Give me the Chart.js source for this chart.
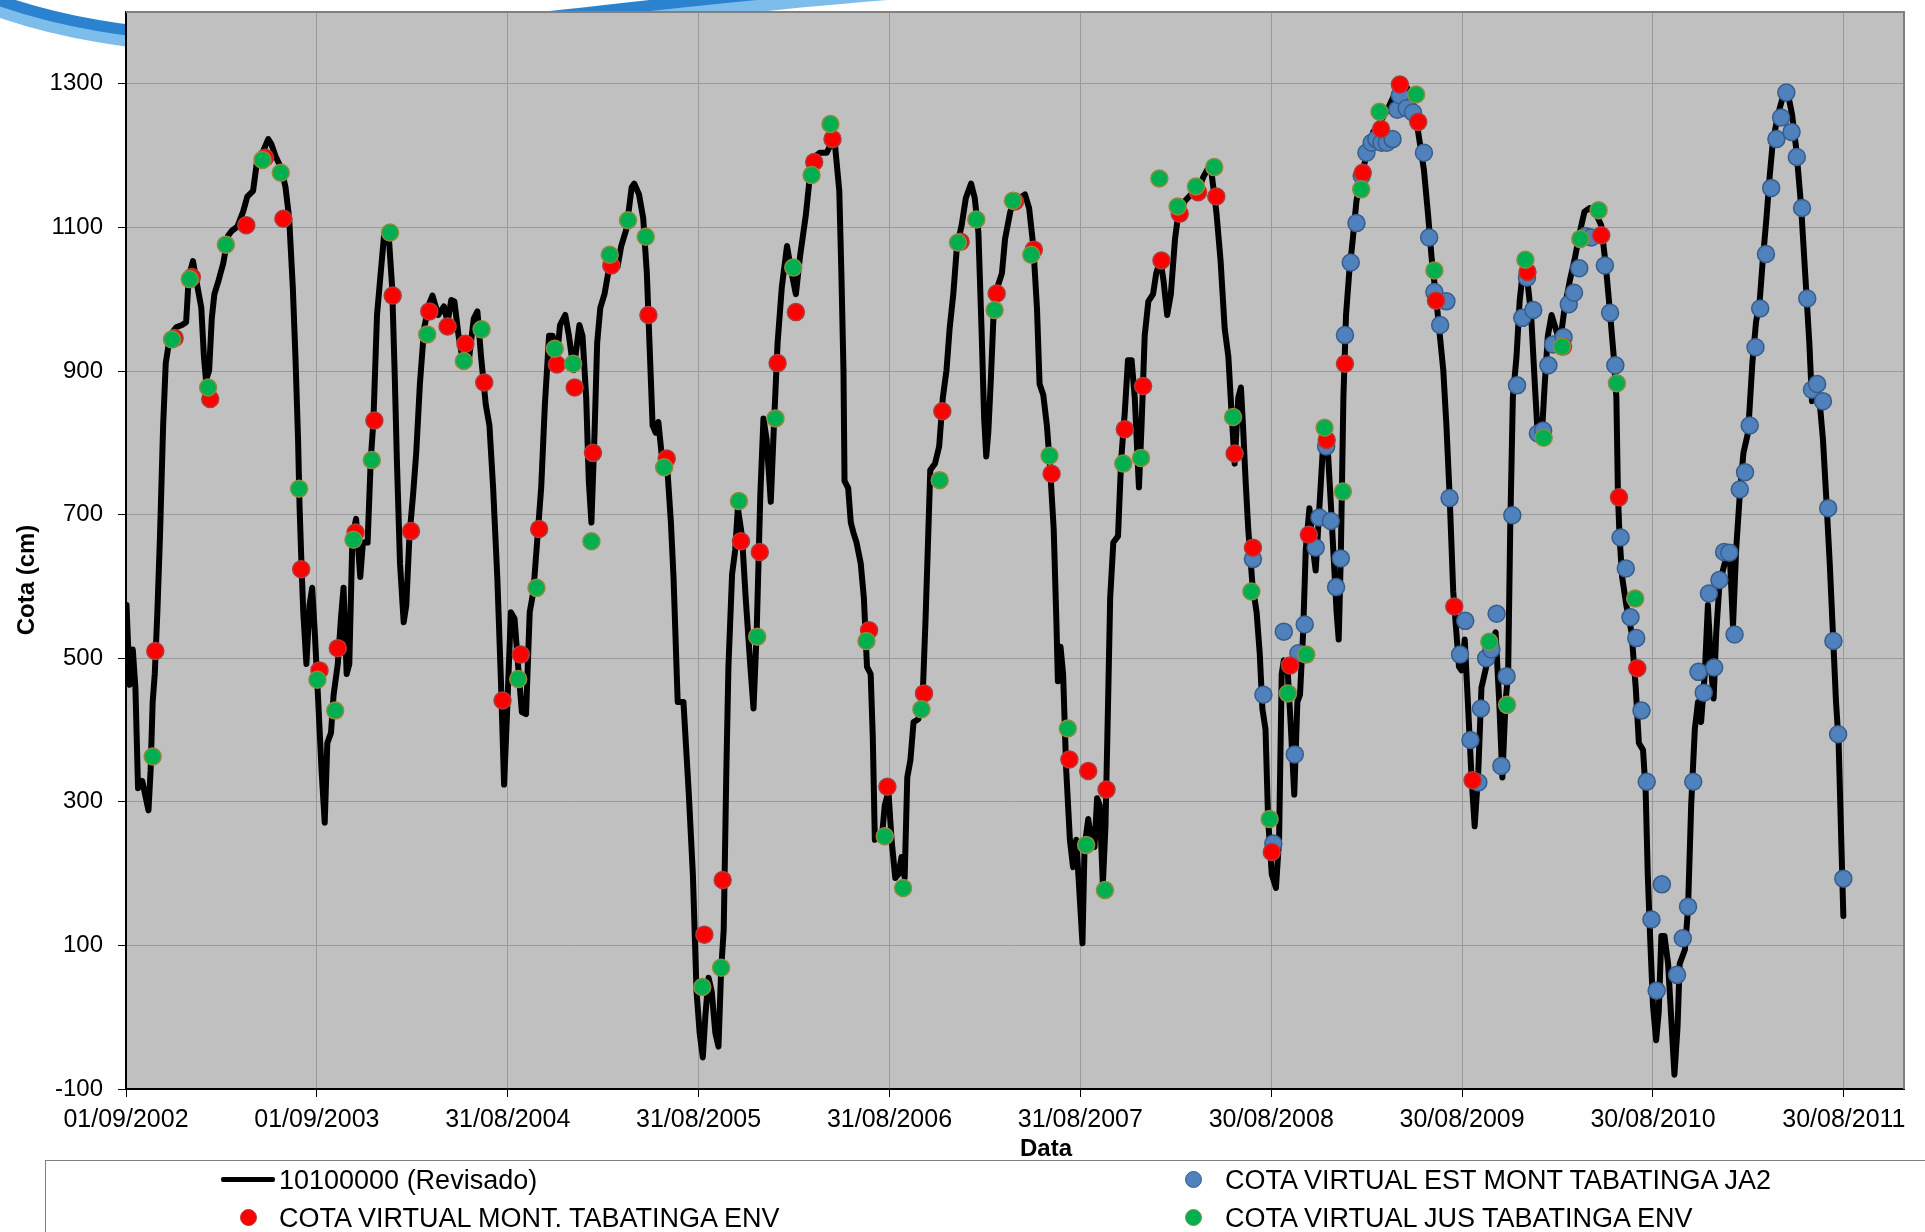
<!DOCTYPE html>
<html>
<head>
<meta charset="utf-8">
<title>Cota Tabatinga</title>
<script src="https://cdn.jsdelivr.net/npm/chart.js@4.4.1/dist/chart.umd.min.js"></script>
<style>
    body { margin: 0; background: #fff; width: 1925px; height: 1232px; overflow: hidden; position: relative; font-family: "Liberation Sans", Arial, sans-serif; }
    #c { position: absolute; left: 0; top: 0; }
    .legend-box { position: absolute; left: 45px; top: 1160px; width: 1950px; height: 200px; border: 1px solid #7f7f7f; }
    .item { position: absolute; font-size: 27px; line-height: 30px; color: #000; white-space: nowrap; }
    .swatch-line { position: absolute; width: 54px; height: 5px; background: #000; border-radius: 2px; }
    .swatch-dot { position: absolute; width: 15px; height: 15px; border-radius: 50%; }
</style>
</head>
<body>
<canvas id="c" width="1925" height="1232"></canvas>

<div class="legend-box"></div>
<div class="swatch-line" style="left:221px; top:1177px;"></div>
<div class="item" style="left:279px; top:1165px;">10100000 (Revisado)</div>
<div class="swatch-dot" style="left:1185px; top:1171px; background:#4f81bd; border:1px solid #385d8a;"></div>
<div class="item" style="left:1225px; top:1165px;">COTA VIRTUAL EST MONT TABATINGA JA2</div>
<div class="swatch-dot" style="left:240px; top:1209px; background:#ff0000; border:1px solid #b03a3a;"></div>
<div class="item" style="left:279px; top:1203px;">COTA VIRTUAL MONT. TABATINGA ENV</div>
<div class="swatch-dot" style="left:1185px; top:1209px; background:#00b050; border:1px solid #8c8c3c;"></div>
<div class="item" style="left:1225px; top:1203px;">COTA VIRTUAL JUS TABATINGA ENV</div>

<script>
// x values are days counted from 01/09/2002, y values are cota in cm

const xTickDays = [0, 365, 730, 1095, 1460, 1825, 2190, 2555, 2920, 3285];
const xTickLabels = ['01/09/2002', '01/09/2003', '31/08/2004', '31/08/2005', '31/08/2006',
    '31/08/2007', '30/08/2008', '30/08/2009', '30/08/2010', '30/08/2011'];
const yTicks = [-100, 100, 300, 500, 700, 900, 1100, 1300];

// 10100000 (Revisado)
const revisado = [
    [1,574],[7,463],[13,512],[18,459],[23,319],[31,329],[38,305],[43,288],[47,343],[51,439],[55,478],[60,564],
    [65,670],[71,824],[76,911],[82,939],[89,954],[96,961],[107,964],[115,968],[120,1031],[128,1053],[137,1016],
    [144,988],[149,920],[153,887],[159,901],[164,973],[169,1007],[177,1026],[186,1050],[195,1088],[202,1095],
    [213,1101],[224,1122],[232,1143],[243,1151],[250,1189],[261,1204],[272,1223],[278,1216],[286,1199],[297,1182],
    [305,1156],[312,1113],[319,1016],[324,920],[329,805],[332,709],[336,622],[339,564],[345,492],[351,574],
    [356,598],[361,536],[367,449],[374,343],[380,271],[385,382],[392,396],[397,449],[405,492],[411,555],[416,598],
    [422,478],[427,492],[433,670],[440,694],[448,613],[453,661],[462,661],[468,776],[473,829],[480,978],[487,1036],
    [494,1093],[502,1093],[509,1016],[514,891],[518,776],[524,632],[531,550],[536,574],[542,670],[549,728],
    [555,786],[562,882],[570,959],[579,992],[586,1005],[597,978],[608,990],[615,968],[622,999],[628,997],
    [636,949],[644,915],[655,911],[665,973],[672,983],[679,920],[688,853],[695,824],[702,738],[710,613],[717,468],
    [723,324],[728,411],[736,564],[743,555],[750,488],[757,425],[765,422],[772,564],[779,593],[787,670],[794,738],
    [801,853],[809,949],[816,949],[823,911],[830,964],[840,978],[847,949],[856,901],[867,964],[873,949],[880,863],
    [885,747],[890,689],[896,814],[901,939],[907,988],[915,1007],[922,1036],[933,1055],[940,1045],[947,1074],
    [957,1098],[967,1156],[972,1161],[981,1146],[989,1113],[996,1036],[1002,920],[1007,824],[1013,814],[1018,829],
    [1024,786],[1035,766],[1042,689],[1047,613],[1055,439],
    [1066,439],[1076,314],[1084,199],[1091,36],[1097,-22],[1103,-56],[1108,3],[1114,55],[1120,36],[1127,-22],
    [1133,-41],[1138,65],[1143,122],[1148,343],[1152,488],[1159,617],[1165,651],[1170,709],[1178,670],[1185,584],
    [1194,488],[1200,430],[1206,536],[1213,728],[1219,834],[1225,805],[1233,718],[1239,824],[1246,939],[1254,1016],
    [1264,1074],[1273,1036],[1281,1007],[1289,1060],[1300,1117],[1309,1180],[1318,1199],[1327,1204],[1340,1204],
    [1349,1218],[1356,1213],[1364,1151],[1368,1036],[1372,901],[1374,747],[1381,737],[1386,689],[1391,675],
    [1397,661],[1405,632],[1411,584],[1414,536],[1417,488],[1424,478],[1428,391],[1432,247],[1438,252],[1445,247],
    [1451,295],[1458,314],[1464,247],[1471,194],[1477,199],[1483,223],[1489,194],[1494,334],[1500,358],[1506,411],
    [1515,415],[1523,439],[1529,555],[1534,670],[1538,762],[1547,771],[1555,795],[1562,863],[1569,901],[1575,959],
    [1582,1007],[1589,1074],[1598,1103],[1606,1141],[1616,1161],[1623,1141],[1630,1093],[1636,959],[1641,834],
    [1645,781],[1649,815],[1654,891],[1659,978],[1666,1016],[1675,1036],[1681,1084],[1691,1122],[1700,1141],
    [1710,1141],[1719,1146],[1727,1127],[1735,1074],[1742,988],[1747,882],[1754,867],[1761,824],[1767,766],
    [1774,680],[1779,555],[1782,468],[1787,516],
    [1792,478],[1798,343],[1805,247],[1811,209],[1817,247],[1822,189],[1829,103],[1833,237],[1840,276],[1846,247],
    [1852,237],[1857,305],[1862,295],[1868,185],[1873,266],[1878,439],[1882,584],[1888,661],[1897,670],[1903,776],
    [1910,843],[1916,915],[1923,915],[1929,863],[1937,738],[1942,824],[1948,949],[1955,997],[1964,1007],[1970,1036],
    [1978,1055],[1984,1026],[1991,978],[1998,1007],[2006,1084],[2012,1117],[2025,1137],[2037,1146],[2050,1151],
    [2060,1170],[2069,1182],[2076,1175],[2085,1122],[2093,1055],[2101,959],[2108,920],[2114,843],[2120,771],
    [2127,863],[2132,877],[2136,824],[2141,747],[2146,680],[2154,603],[2162,564],[2168,507],[2173,430],[2179,401],
    [2184,276],[2191,199],[2199,180],[2205,247],[2210,478],[2214,497],[2221,488],[2227,411],[2234,310],[2240,439],
    [2245,449],[2251,536],[2256,651],[2263,709],[2270,651],[2275,622],[2282,709],[2289,795],[2297,805],[2303,728],
    [2310,632],[2315,564],[2319,526],[2323,641],[2328,863],[2333,978],[2339,1036],[2346,1084],[2353,1137],
    [2363,1175],[2372,1199],[2385,1233],[2398,1247],[2411,1262],[2423,1281],[2433,1295],[2446,1300],[2455,1286],
    [2465,1262],[2473,1223],[2482,1180],[2490,1117],[2497,1055],[2506,997],
    [2519,901],[2525,824],[2531,728],[2538,593],[2544,536],[2549,488],[2554,483],[2560,526],[2566,439],[2573,334],
    [2579,266],[2586,343],[2592,459],[2598,478],[2607,507],[2614,526],[2619,536],[2626,439],[2632,334],[2638,439],
    [2643,478],[2647,680],[2652,863],[2659,920],[2665,997],[2672,1045],[2679,1031],[2687,978],[2694,882],[2700,805],
    [2707,805],[2713,882],[2719,949],[2726,978],[2734,959],[2742,939],[2751,988],[2761,1026],[2770,1055],[2780,1093],
    [2789,1122],[2799,1127],[2812,1117],[2821,1103],[2830,1045],[2837,988],[2845,920],[2850,863],[2853,728],
    [2856,670],[2861,613],[2869,574],[2879,536],[2887,459],[2893,382],[2901,372],[2906,314],[2910,199],[2915,103],
    [2920,16],[2926,-32],[2931,7],[2936,113],[2942,113],[2949,74],[2955,-3],[2961,-80],[2967,-13],[2971,74],
    [2981,94],[2987,151],[2993,295],[3000,401],[3006,439],[3012,411],[3019,478],[3025,574],[3032,478],[3036,444],
    [3041,536],[3047,603],[3057,632],[3067,641],[3073,545],[3079,651],[3086,728],[3093,786],[3102,815],[3110,911],
    [3117,968],[3124,997],[3130,1055],[3137,1113],[3143,1170],[3149,1218],[3159,1257],[3168,1281],[3178,1286],
    [3186,1257],[3194,1209],[3203,1132],[3211,1036],[3219,939],[3224,858],[3230,877],[3238,863],[3245,805],
    [3251,728],[3258,632],[3264,536],[3270,439],[3275,382],[3280,247],[3284,141]
];

// COTA VIRTUAL MONT. TABATINGA ENV
const montEnv = [
    [56,510],[93,946],[126,1031],[161,861],[230,1103],[266,1197],[301,1112],[335,624],[370,483],[405,514],
    [439,675],[475,831],[510,1005],[545,677],[580,983],[615,962],[649,938],[685,884],[720,441],[755,505],
    [790,680],[824,909],[858,877],[893,786],[928,1047],[999,978],[1034,778],
    [1106,115],[1141,191],[1176,663],[1212,648],[1246,911],[1281,982],[1316,1191],[1351,1223],[1421,539],
    [1456,321],[1526,451],[1561,844],[1596,1080],[1665,1008],[1700,1136],[1736,1069],[1770,757],[1804,359],
    [1840,343],[1875,317],[1910,819],[1945,879],[1980,1054],[2015,1119],[2050,1149],[2085,1143],[2120,785],
    [2155,654],[2191,230],[2226,490],[2262,672],[2296,804],[2331,910],[2365,1176],[2400,1237],[2436,1299],
    [2471,1247],[2505,998],[2540,572],[2575,330],[2680,1038],[2748,934],[2821,1089],[2855,724],[2890,486]
];

// COTA VIRTUAL JUS TABATINGA ENV
const jusEnv = [
    [51,363],[88,944],[122,1028],[157,877],[191,1076],[261,1194],[296,1176],[331,736],[366,470],[400,427],
    [435,665],[470,776],[505,1093],[576,951],[646,914],[680,958],[750,471],[785,598],[820,931],[855,910],
    [890,663],[925,1062],[960,1110],[994,1087],[1029,766],
    [1102,42],[1138,69],[1172,719],[1207,530],[1242,834],[1276,1044],[1311,1173],[1347,1244],[1416,524],
    [1451,252],[1486,180],[1521,429],[1556,748],[1591,1079],[1626,1111],[1661,985],[1696,1137],[1731,1062],
    [1766,782],[1801,402],
    [1836,240],[1872,177],[1907,771],[1941,779],[1976,1168],[2011,1129],[2046,1157],[2081,1184],[2117,836],
    [2152,593],[2187,276],[2222,451],[2257,505],[2292,821],[2327,732],[2362,1153],[2397,1261],[2467,1285],
    [2502,1040],[2607,523],[2641,435],[2676,1055],[2711,807],[2746,934],[2781,1084],[2816,1124],[2851,883],
    [2886,583]
];

// COTA VIRTUAL EST MONT TABATINGA JA2
const montJa2 = [
    [2155,638],[2175,449],[2194,242],[2214,537],[2235,366],[2242,507],[2254,547],[2275,654],[2282,696],
    [2295,795],[2304,691],[2314,599],[2323,639],[2331,950],[2342,1051],[2353,1106],[2363,1172],[2372,1204],
    [2382,1218],[2391,1223],[2401,1218],[2411,1218],[2422,1223],[2431,1264],[2436,1284],[2449,1266],[2461,1260],
    [2482,1204],[2492,1086],[2502,1010],[2513,964],
    [2525,997],[2531,723],[2551,505],[2561,552],[2571,386],[2586,327],[2591,430],[2601,500],[2611,512],[2621,562],
    [2630,350],[2640,475],[2651,699],[2660,880],[2670,974],[2679,1030],[2691,985],[2700,813],[2710,817],[2720,908],
    [2729,937],[2749,947],[2759,993],[2769,1009],[2779,1043],[2791,1088],[2802,1086],[2828,1047],[2838,981],
    [2848,908],[2858,668],[2868,625],[2877,557],[2888,528],[2898,427],[2908,328],[2917,136],[2927,37],[2937,185],
    [2966,59],[2977,110],[2987,154],[2997,328],[3007,481],[3017,452],[3027,590],[3037,487],[3047,609],[3056,648],
    [3066,647],[3076,533],[3086,735],[3096,759],[3105,824],[3116,933],[3125,987],[3136,1063],[3146,1155],
    [3156,1223],[3165,1253],[3175,1288],[3185,1233],[3195,1198],[3205,1127],[3215,1001],[3224,874],[3234,882],
    [3245,858],[3255,709],[3265,524],[3274,394],[3284,193]
];

function toPoints(arr) {
    return arr.map(p => ({ x: p[0], y: p[1] }));
}

// blue swoosh of the slide background, behind the plot
const swooshPlugin = {
    id: 'swoosh',
    beforeDraw(chart) {
        const ctx = chart.ctx;
        ctx.save();
        ctx.lineCap = 'round';
        ctx.strokeStyle = '#7dbdeb';
        ctx.lineWidth = 14;
        ctx.beginPath();
        ctx.moveTo(-40, -5);
        ctx.bezierCurveTo(200, 100, 520, 20, 900, -8);
        ctx.stroke();
        ctx.strokeStyle = '#2b82cf';
        ctx.lineWidth = 11;
        ctx.beginPath();
        ctx.moveTo(-40, -15);
        ctx.bezierCurveTo(200, 90, 500, 10, 880, -16);
        ctx.stroke();
        ctx.restore();
    }
};

const plotAreaPlugin = {
    id: 'plotArea',
    beforeDraw(chart) {
        const { ctx, chartArea: a } = chart;
        ctx.save();
        ctx.fillStyle = '#c0c0c0';
        ctx.fillRect(a.left, a.top, a.right - a.left, a.bottom - a.top);
        ctx.restore();
    },
    afterDraw(chart) {
        const { ctx, chartArea: a } = chart;
        ctx.save();
        // top and right frame
        ctx.strokeStyle = '#808080';
        ctx.lineWidth = 2;
        ctx.beginPath();
        ctx.moveTo(a.left, a.top);
        ctx.lineTo(a.right, a.top);
        ctx.lineTo(a.right, a.bottom);
        ctx.stroke();
        // axis titles
        ctx.fillStyle = '#000';
        ctx.font = 'bold 24px "Liberation Sans", Arial, sans-serif';
        ctx.textAlign = 'center';
        ctx.textBaseline = 'middle';
        ctx.fillText('Data', 1046, 1149);
        ctx.translate(27, 580);
        ctx.rotate(-Math.PI / 2);
        ctx.fillText('Cota (cm)', 0, 0);
        ctx.restore();
    }
};

const dotStyle = (fill, edge, order) => ({
    showLine: false,
    pointRadius: 8.5,
    pointBorderWidth: 1.5,
    pointBackgroundColor: fill,
    pointBorderColor: edge,
    backgroundColor: fill,
    borderColor: edge,
    order: order
});

new Chart(document.getElementById('c'), {
    type: 'scatter',
    data: {
        datasets: [
            {
                label: '10100000 (Revisado)',
                data: toPoints(revisado),
                showLine: true,
                borderColor: '#000000',
                borderWidth: 6,
                borderJoinStyle: 'round',
                borderCapStyle: 'round',
                pointRadius: 0,
                tension: 0,
                order: 4
            },
            Object.assign({ label: 'COTA VIRTUAL EST MONT TABATINGA JA2', data: toPoints(montJa2) }, dotStyle('#4f81bd', '#385d8a', 3)),
            Object.assign({ label: 'COTA VIRTUAL MONT. TABATINGA ENV', data: toPoints(montEnv) }, dotStyle('#ff0000', '#b03a3a', 2)),
            Object.assign({ label: 'COTA VIRTUAL JUS TABATINGA ENV', data: toPoints(jusEnv) }, dotStyle('#00b050', '#8c8c3c', 1))
        ]
    },
    options: {
        responsive: false,
        animation: false,
        devicePixelRatio: 1,
        layout: { padding: { left: 0, top: 12, right: 21, bottom: 0 } },
        plugins: {
            legend: { display: false },
            tooltip: { enabled: false }
        },
        scales: {
            x: {
                type: 'linear',
                min: 0,
                max: 3400,
                afterFit: s => { s.height = 143; s.paddingLeft = 0; s.paddingRight = 0; },
                afterBuildTicks: s => { s.ticks = xTickDays.map(v => ({ value: v })); },
                ticks: {
                    autoSkip: false,
                    maxRotation: 0,
                    padding: 8,
                    color: '#000',
                    font: { family: '"Liberation Sans", Arial, sans-serif', size: 25 },
                    callback: (value, index) => xTickLabels[index]
                },
                grid: {
                    color: '#999999',
                    lineWidth: 1,
                    borderDash: [2, 2],
                    tickLength: 8,
                    tickColor: '#000',
                    tickBorderDash: []
                },
                border: { display: true, color: '#000', width: 2 }
            },
            y: {
                type: 'linear',
                min: -100,
                max: 1400,
                afterFit: s => { s.width = 126; s.paddingTop = 0; s.paddingBottom = 0; },
                afterBuildTicks: s => { s.ticks = yTicks.map(v => ({ value: v })); },
                ticks: {
                    padding: 15,
                    color: '#000',
                    font: { family: '"Liberation Sans", Arial, sans-serif', size: 24 },
                    callback: value => String(value)
                },
                grid: {
                    color: '#999999',
                    lineWidth: 1,
                    borderDash: [2, 2],
                    tickLength: 8,
                    tickColor: '#000',
                    tickBorderDash: []
                },
                border: { display: true, color: '#000', width: 2 }
            }
        }
    },
    plugins: [swooshPlugin, plotAreaPlugin]
});
</script>
</body>
</html>
